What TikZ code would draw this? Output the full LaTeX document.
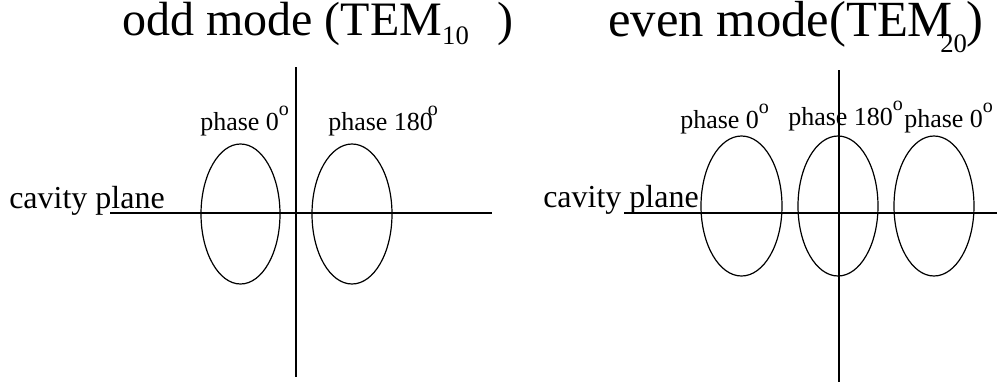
\documentclass[tikz,border=0pt]{standalone}
\usepackage{fontspec}
\setmainfont{Liberation Serif}
\usetikzlibrary{positioning}
\tikzset{
  every node/.style={inner sep=0pt, text=black},
  axisLine/.style={line width=0.9pt, black},
  lobe/.style={line width=0.9pt, black},
  modeTitle/.style={anchor=base west, font=\fontsize{36}{36}\selectfont},
  planeLabel/.style={anchor=base west, font=\fontsize{24}{24}\selectfont},
  phaseLabel/.style={anchor=base west, font=\fontsize{19.5}{19.5}\selectfont},
}
\newcommand{\phasedeg}{\raisebox{0.55em}{\fontsize{15}{15}\selectfont o}}
\newcommand{\modesub}[2]{\raisebox{-#1}{\fontsize{20}{20}\selectfont #2}}

\begin{document}
\begin{tikzpicture}[x=0.75pt,y=-0.75pt]
  \useasboundingbox (0,0) rectangle (997,383);

  % Odd mode: two lobes in opposite phase.
  \node[modeTitle] (oddTitle) at (122,35)
    {odd mode (TEM\modesub{6.75pt}{10}\hspace{0.6em})};
  \coordinate (oddW) at (110,213);
  \coordinate (oddE) at (492,213);
  \coordinate (oddN) at (296,67);
  \coordinate (oddS) at (296,377);
  \draw[axisLine] (oddW) -- (oddE);
  \draw[axisLine] (oddN) -- (oddS);
  \coordinate (oddA) at (240.5,214);
  \coordinate (oddB) at (352,214);
  \draw[lobe] (oddA) ellipse [x radius=39.5, y radius=70];
  \draw[lobe] (oddB) ellipse [x radius=40, y radius=70];
  \node[planeLabel] (oddPlane) at (9,208) {cavity plane};
  \node[phaseLabel] (oddPhaseA) at (200,130) {phase 0\phasedeg};
  \node[phaseLabel] (oddPhaseB) at (328,130) {phase 180\hspace{-0.2em}\phasedeg};

  % Even mode: three lobes, the middle one flipped.
  \node[modeTitle, font=\fontsize{38}{38}\selectfont] (evenTitle) at (608,36)
    {even mode(TEM\hspace{-0.25em}\modesub{12pt}{20})};
  \coordinate (evenW) at (624,213);
  \coordinate (evenE) at (997,213);
  \coordinate (evenN) at (839,70);
  \coordinate (evenS) at (839,382);
  \draw[axisLine] (evenW) -- (evenE);
  \draw[axisLine] (evenN) -- (evenS);
  \coordinate (evenA) at (741.5,206);
  \coordinate (evenB) at (838,206);
  \coordinate (evenC) at (934,206);
  \draw[lobe] (evenA) ellipse [x radius=40.5, y radius=70];
  \draw[lobe] (evenB) ellipse [x radius=40, y radius=70];
  \draw[lobe] (evenC) ellipse [x radius=40, y radius=70];
  \node[planeLabel] (evenPlane) at (543,207) {cavity plane};
  \node[phaseLabel] (evenPhaseA) at (680,128) {phase 0\phasedeg};
  \node[phaseLabel] (evenPhaseB) at (788,125) {phase 180\phasedeg};
  \node[phaseLabel] (evenPhaseC) at (904,127) {phase 0\phasedeg};
\end{tikzpicture}
\end{document}
